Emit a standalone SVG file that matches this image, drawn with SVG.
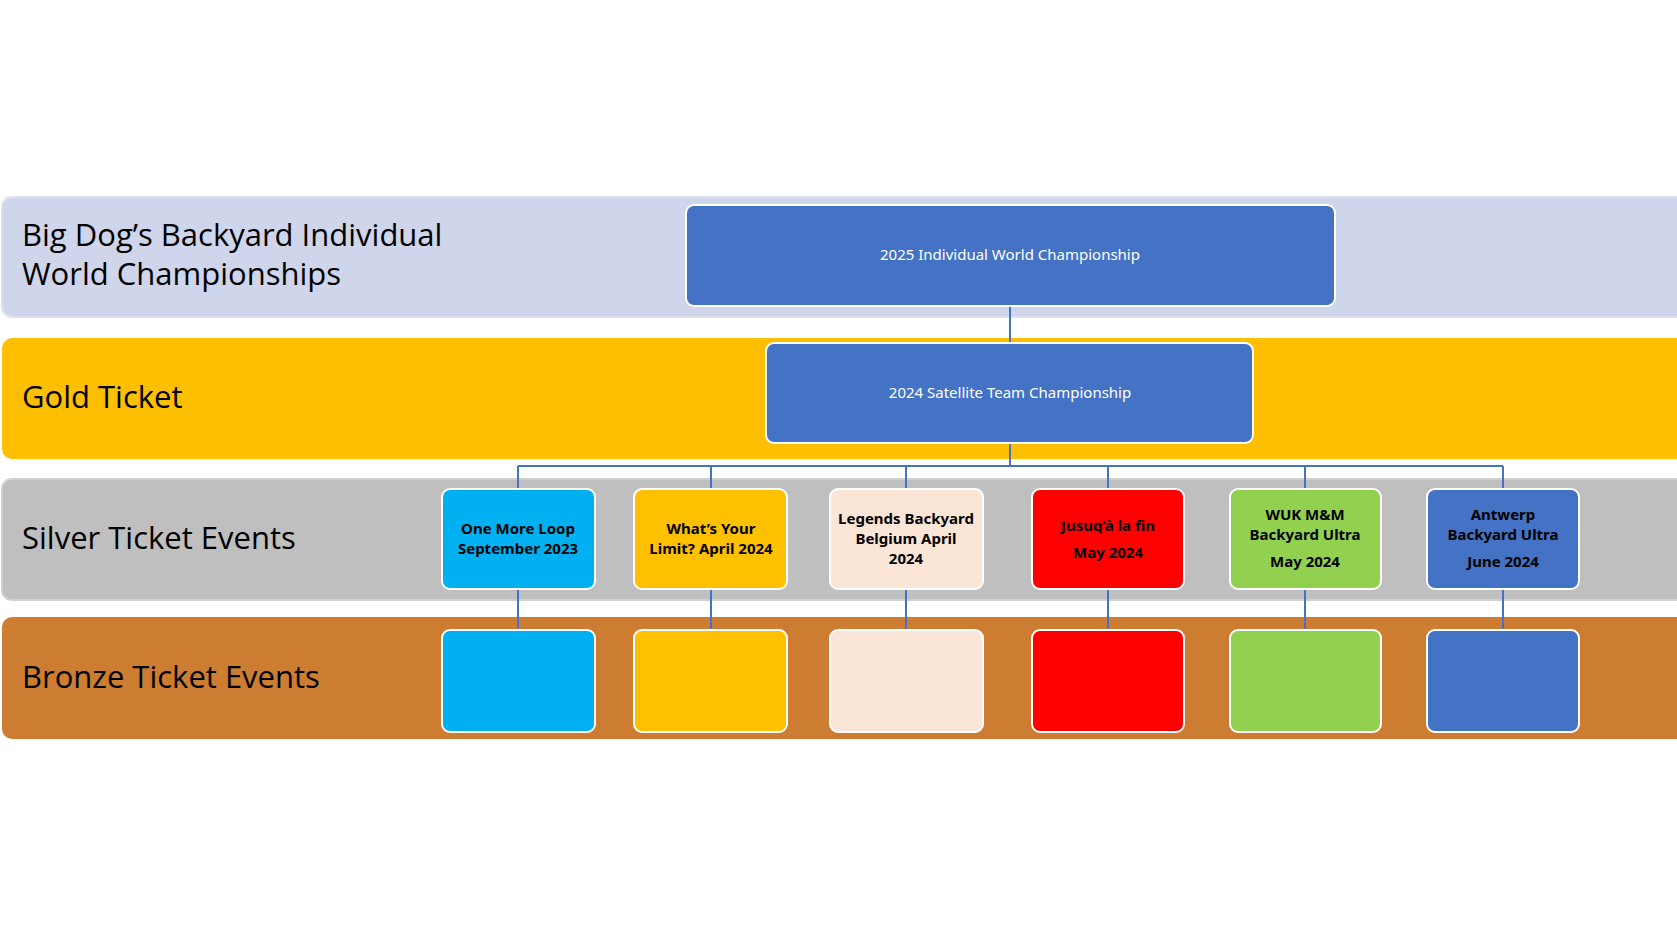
<svg xmlns="http://www.w3.org/2000/svg" width="1677" height="938" viewBox="0 0 1677 938">
<style>
.band{font-family:"Open Sans","Noto Sans",sans-serif;font-size:31px;fill:#000}
.box{stroke:#fff;stroke-width:2}
.t{font-family:"Noto Sans","Liberation Sans",sans-serif;font-size:15px;font-weight:bold;fill:#000;text-anchor:middle}
.w{font-family:"Noto Sans","Liberation Sans",sans-serif;font-size:15px;fill:#fff;text-anchor:middle}
.c{stroke:#4472c4;stroke-width:2;fill:none}
</style>
<rect width="1677" height="938" fill="#fff"/>
<g id="bands">
<rect x="2" y="197" width="1690" height="120" rx="10" fill="#cfd5ea" stroke="#dde1ef" stroke-width="2"/>
<rect x="2" y="338" width="1690" height="121" rx="10" fill="#fdbf00"/>
<rect x="2" y="479" width="1690" height="121" rx="10" fill="#bfbfbf" stroke="#d0d0d0" stroke-width="2"/>
<rect x="2" y="617" width="1690" height="122" rx="10" fill="#cc7d32"/>
<text class="band" x="22" y="246">Big Dog’s Backyard Individual</text>
<text class="band" x="22" y="285">World Championships</text>
<text class="band" x="22" y="408">Gold Ticket</text>
<text class="band" x="22" y="549">Silver Ticket Events</text>
<text class="band" x="22" y="688">Bronze Ticket Events</text>
</g>
<g id="connectors">
<path class="c" d="M1010 306V343M1010 443V466M518 466H1503M518 466V489M711 466V489M906 466V489M1108 466V489M1305 466V489M1503 466V489"/>
<path class="c" d="M518 589V630M711 589V630M906 589V630M1108 589V630M1305 589V630M1503 589V630"/>
</g>
<g id="n-world"><rect class="box" x="686" y="205" width="649" height="101" rx="8" fill="#4472c4"/><text class="w" x="1010" y="260">2025 Individual World Championship</text></g>
<g id="n-team"><rect class="box" x="766" y="343" width="487" height="100" rx="8" fill="#4472c4"/><text class="w" x="1010" y="398">2024 Satellite Team Championship</text></g>
<g id="s1"><rect class="box" x="442" y="489" width="153" height="100" rx="8" fill="#00b0f0"/><text class="t" x="518" y="534">One More Loop</text><text class="t" x="518" y="554">September 2023</text></g>
<g id="s2"><rect class="box" x="634" y="489" width="153" height="100" rx="8" fill="#ffc000"/><text class="t" x="711" y="534">What’s Your</text><text class="t" x="711" y="554">Limit? April 2024</text></g>
<g id="s3"><rect class="box" x="830" y="489" width="153" height="100" rx="8" fill="#fbe5d6"/><text class="t" x="906" y="524">Legends Backyard</text><text class="t" x="906" y="544">Belgium April</text><text class="t" x="906" y="564">2024</text></g>
<g id="s4"><rect class="box" x="1032" y="489" width="152" height="100" rx="8" fill="#ff0000"/><text class="t" x="1108" y="531">Jusuq’à la fin</text><text class="t" x="1108" y="558">May 2024</text></g>
<g id="s5"><rect class="box" x="1230" y="489" width="151" height="100" rx="8" fill="#92d050"/><text class="t" x="1305" y="520">WUK M&amp;M</text><text class="t" x="1305" y="540">Backyard Ultra</text><text class="t" x="1305" y="567">May 2024</text></g>
<g id="s6"><rect class="box" x="1427" y="489" width="152" height="100" rx="8" fill="#4472c4"/><text class="t" x="1503" y="520">Antwerp</text><text class="t" x="1503" y="540">Backyard Ultra</text><text class="t" x="1503" y="567">June 2024</text></g>
<g id="b1"><rect class="box" x="442" y="630" width="153" height="102" rx="8" fill="#00b0f0"/></g>
<g id="b2"><rect class="box" x="634" y="630" width="153" height="102" rx="8" fill="#ffc000"/></g>
<g id="b3"><rect class="box" x="830" y="630" width="153" height="102" rx="8" fill="#fbe5d6"/></g>
<g id="b4"><rect class="box" x="1032" y="630" width="152" height="102" rx="8" fill="#ff0000"/></g>
<g id="b5"><rect class="box" x="1230" y="630" width="151" height="102" rx="8" fill="#92d050"/></g>
<g id="b6"><rect class="box" x="1427" y="630" width="152" height="102" rx="8" fill="#4472c4"/></g>
</svg>
